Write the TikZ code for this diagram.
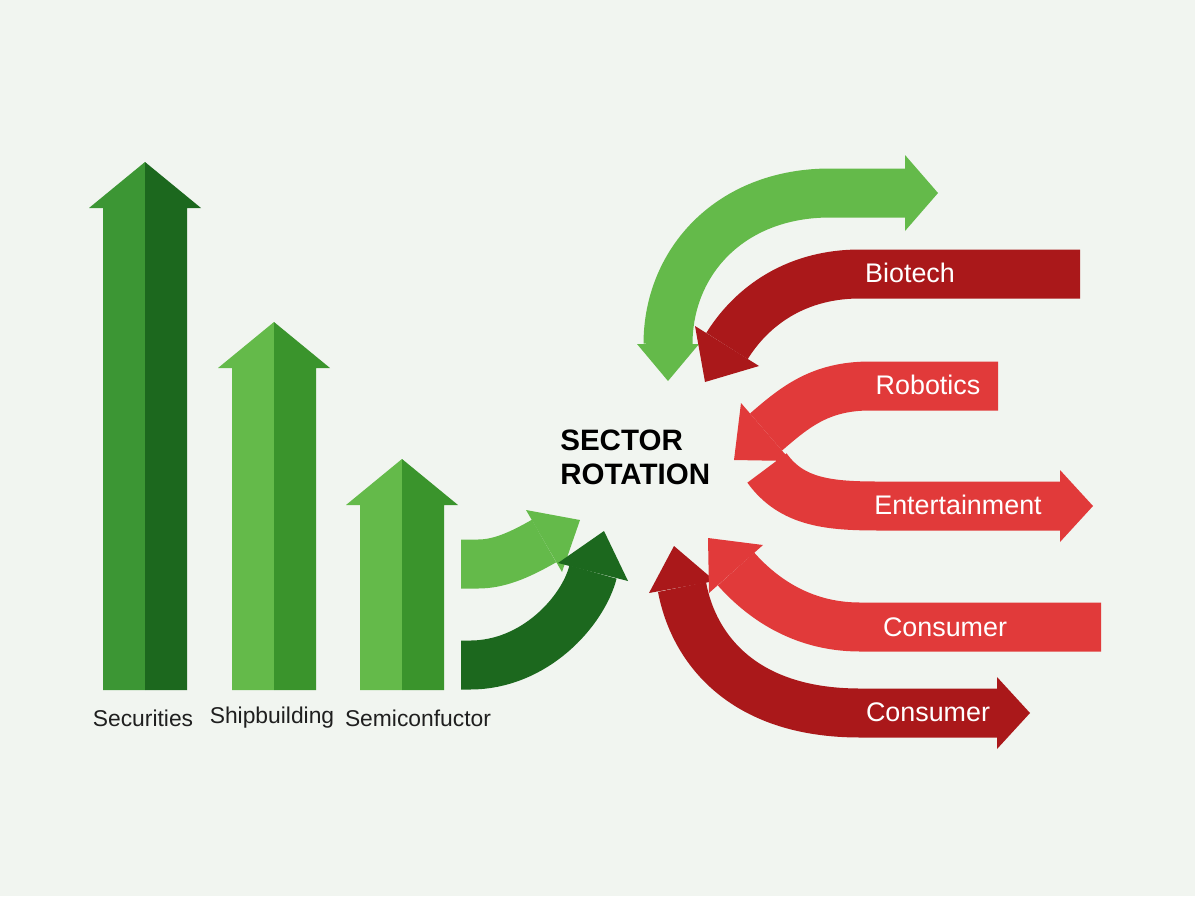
\documentclass[tikz,border=0pt]{standalone}
\usepackage{fontspec}
\setmainfont{Liberation Sans}
\usetikzlibrary{positioning}

\definecolor{bgc}{RGB}{241,245,240}
\definecolor{lgreen}{RGB}{100,186,74}
\definecolor{mgreen}{RGB}{58,148,44}
\definecolor{sgreen}{RGB}{60,150,52}
\definecolor{dgreen}{RGB}{28,104,30}
\definecolor{dred}{RGB}{170,24,26}
\definecolor{lred}{RGB}{225,58,58}

\begin{document}
\begin{tikzpicture}[x=0.02cm, y=-0.02cm,
    band/.style={line width=0.98cm},
    lbl/.style={font=\fontsize{13}{15}\selectfont, text=black!88},
    tag/.style={font=\fontsize{15.3}{18}\selectfont, text=white}]
  \fill[bgc] (0,0) rectangle (1195,896);

  % rising bars, two-tone
  \foreach \cx/\ty/\lc/\rc in {145/162/sgreen/dgreen, 274/322/lgreen/mgreen,
                               402/459/lgreen/mgreen} {
    \fill[\lc] (\cx,690) -- (\cx-42,690) -- (\cx-42,\ty+46) -- (\cx-56,\ty+46)
      -- (\cx,\ty) -- cycle;
    \fill[\rc] (\cx,690) -- (\cx+42,690) -- (\cx+42,\ty+46) -- (\cx+56,\ty+46)
      -- (\cx,\ty) -- cycle;
  }
  \node[lbl] (sec) at (143,718) {Securities};
  \node[lbl] (ship) at (272,718) {Shipbuilding};
  \node[lbl] (semi) at (418,718) {Semiconfuctor};

  % flows into the hub
  \draw[band, lgreen] (461,564) -- (478,564) .. controls (498,564) and (518,556) .. (544,541);
  \fill[lgreen] (580,520) -- (562,572) -- (526,510) -- cycle;
  \draw[band, dgreen] (461,665) -- (470,665) .. controls (535,665) and (583,611) .. (593,572);
  \fill[dgreen] (604,531) -- (628,581) -- (558,563) -- cycle;

  \node[anchor=west, align=left, inner sep=0pt,
        font=\bfseries\fontsize{16.8}{19.5}\selectfont] (hub) at (560,457) {SECTOR\\ROTATION};

  % green swing, both ends
  \draw[band, lgreen] (905,193) -- (830,193) .. controls (730,193) and (668,262) .. (668,344);
  \fill[lgreen] (938,193) -- (905,155) -- (905,231) -- cycle;
  \fill[lgreen] (668,381) -- (637,344) -- (699,344) -- cycle;

  % red sectors
  \draw[band, dred] (1080,274) -- (860,274) .. controls (790,274) and (748,312) .. (727,346);
  \fill[dred] (705,382) -- (759,366) -- (695,326) -- cycle;

  \draw[band, lred] (998,386) -- (870,386) .. controls (820,386) and (795,407) .. (766,432);
  \fill[lred] (734,460) -- (791,461) -- (741,403) -- cycle;

  \draw[band, lred] (767,468) .. controls (792,503) and (830,506) .. (880,506) -- (1060,506);
  \fill[lred] (1093,506) -- (1060,470) -- (1060,542) -- cycle;

  \draw[band, dred] (997,713) -- (860,713) .. controls (740,713) and (693,646) .. (682,587);
  \fill[dred] (1030,713) -- (997,677) -- (997,749) -- cycle;
  \fill[dred] (674,546) -- (715,581) -- (649,593) -- cycle;

  \draw[band, lred] (1101,627) -- (860,627) .. controls (800,627) and (760,596) .. (736,569);
  \fill[lred] (708,538) -- (763,545) -- (709,593) -- cycle;

  \node[tag] (bio) at (910,273) {Biotech};
  \node[tag] (rob) at (928,385) {Robotics};
  \node[tag] (ent) at (958,505) {Entertainment};
  \node[tag] (con) at (945,627) {Consumer};
  \node[tag] (con2) at (928,712) {Consumer};
\end{tikzpicture}
\end{document}
